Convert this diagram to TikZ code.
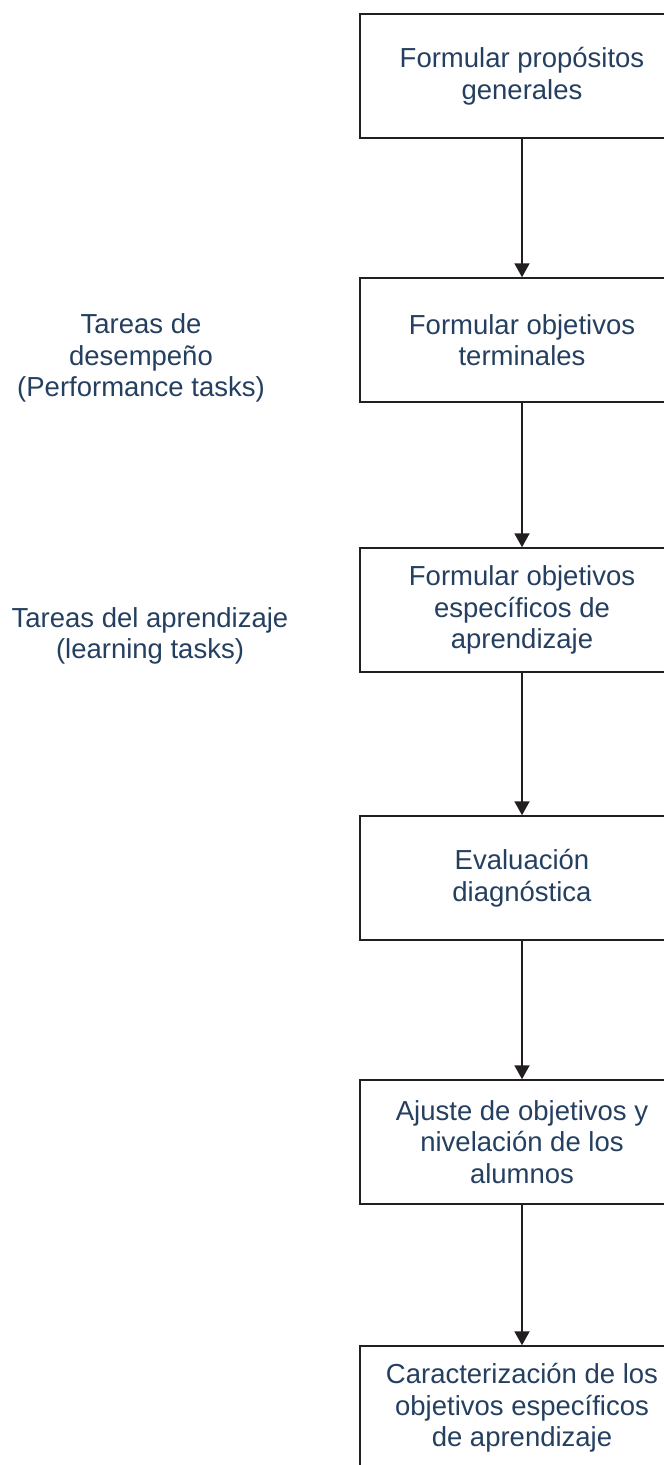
\documentclass[tikz,border=0pt]{standalone}
\usepackage{fontspec}
\setmainfont{Liberation Sans}
\usepackage{tikz}
\usetikzlibrary{arrows.meta}
\definecolor{navy}{HTML}{243F60}
\definecolor{lineGray}{HTML}{231F20}

\begin{document}
\begin{tikzpicture}[x=1pt,y=-1pt,
    paso/.style={draw=lineGray,line width=1.5pt,minimum width=324pt,minimum height=124pt,
      align=center,text=navy,font=\fontsize{27.5}{31.5}\selectfont,inner sep=0pt},
    tarea/.style={align=center,text=navy,font=\fontsize{27.5}{31.5}\selectfont},
    flecha/.style={-{Triangle[width=15pt,length=14pt]},lineGray,line width=2pt}]
  \useasboundingbox (0,0) rectangle (664,1465);
  \clip (0,0) rectangle (664,1465);
  % pasos de la secuencia
  \node[paso] (propositos) at (522,76) {Formular propósitos\\generales};
  \node[paso] (terminales) at (522,340) {Formular objetivos\\terminales};
  \node[paso] (especificos) at (522,610) {Formular objetivos\\específicos de\\aprendizaje};
  \node[paso] (diagnostica) at (522,878) {Evaluación\\diagnóstica};
  \node[paso] (ajuste) at (522,1142) {Ajuste de objetivos y\\nivelación de los\\alumnos};
  \node[paso] (caracterizacion) at (522,1408) {Caracterización de los\\objetivos específicos\\de aprendizaje};
  % tipos de tareas
  \node[tarea] (desempeno) at (141,358) {Tareas de\\desempeño\\(Performance tasks)};
  \node[tarea] (aprendizaje) at (150,636) {Tareas del aprendizaje\\(learning tasks)};
  % flechas
  \foreach \a/\b in {propositos/terminales,terminales/especificos,especificos/diagnostica,
                     diagnostica/ajuste,ajuste/caracterizacion}
    \draw[flecha] (\a) -- (\b);
\end{tikzpicture}
\end{document}
